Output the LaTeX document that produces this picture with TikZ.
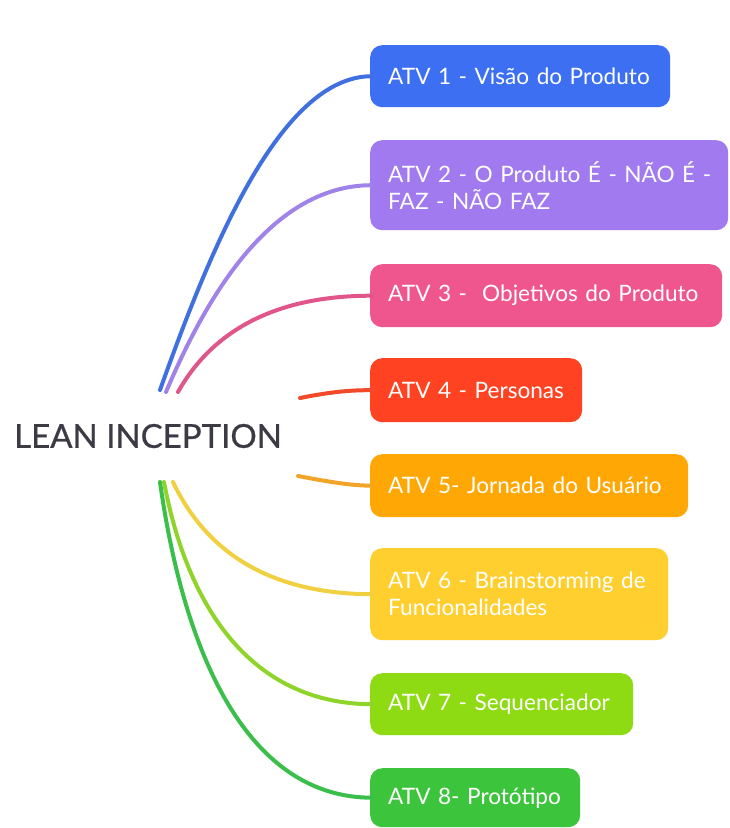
\documentclass[tikz,border=0pt]{standalone}
\usepackage{fontspec}
\setmainfont{Lato}
\newfontfamily\titlefont{Lato}[FakeBold=0.7]
\definecolor{c1}{HTML}{3D6FF2}
\definecolor{c2}{HTML}{A07AEE}
\definecolor{c3}{HTML}{F0568E}
\definecolor{c4}{HTML}{FF4222}
\definecolor{c5}{HTML}{FFA805}
\definecolor{c6}{HTML}{FFCF30}
\definecolor{c7}{HTML}{8EDB14}
\definecolor{c8}{HTML}{3CC43C}
\definecolor{l1}{HTML}{4070E0}
\definecolor{l2}{HTML}{A083E8}
\definecolor{l3}{HTML}{E0558A}
\definecolor{l4}{HTML}{F04A2A}
\definecolor{l5}{HTML}{F2A428}
\definecolor{l6}{HTML}{F0D040}
\definecolor{l7}{HTML}{8FD42A}
\definecolor{l8}{HTML}{3CBF4A}
\definecolor{titlec}{HTML}{3A3B45}
\tikzset{
  box/.style={rounded corners=12pt, anchor=north west, inner xsep=18pt, inner ysep=0pt,
    text=white, align=left, font=\fontsize{22.6}{27}\selectfont},
  conn/.style={line width=4pt, line cap=round}
}
\begin{document}
\begin{tikzpicture}[x=1pt,y=-1pt]
\useasboundingbox (0,0) rectangle (730,828);
\fill[white] (0,0) rectangle (730,828);
\node[anchor=west, inner sep=0pt, text=titlec, font=\titlefont\fontsize{33}{36}\selectfont] (root) at (14,436) {LEAN INCEPTION};

\node[box, fill=c1, minimum width=300pt, minimum height=62pt, text width=264pt] (b1) at (370,45) {ATV 1 - Visão do Produto};
\node[box, fill=c2, minimum width=358pt, minimum height=90pt, text width=322pt] (b2) at (370,140) {\mbox{ATV 2 - O Produto É - NÃO É -}\\FAZ - NÃO FAZ};
\node[box, fill=c3, minimum width=352pt, minimum height=63pt, text width=316pt] (b3) at (370,264) {ATV 3 -\ \ Objetivos do Produto};
\node[box, fill=c4, minimum width=212pt, minimum height=64pt, text width=176pt] (b4) at (370,358) {ATV 4 - Personas};
\node[box, fill=c5, minimum width=318pt, minimum height=63pt, text width=282pt] (b5) at (370,454) {ATV 5- Jornada do Usuário};
\node[box, fill=c6, minimum width=298pt, minimum height=92pt, text width=262pt] (b6) at (370,548) {\mbox{ATV 6 - Brainstorming de}\\Funcionalidades};
\node[box, fill=c7, minimum width=263pt, minimum height=62pt, text width=227pt] (b7) at (370,673) {ATV 7 - Sequenciador};
\node[box, fill=c8, minimum width=210pt, minimum height=59pt, text width=174pt] (b8) at (370,768) {ATV 8- Protótipo};

\coordinate (s1) at (160,390);
\coordinate (s2) at (166,392);
\coordinate (s3) at (178,392);
\coordinate (s4) at (300,398);
\coordinate (s5) at (298,476);
\coordinate (s6) at (173,482);
\coordinate (s7) at (164,482);
\coordinate (s8) at (160,482);

\draw[conn, l1] (s1) .. controls (210,250) and (280,76) .. ([xshift=2pt]b1.west);
\draw[conn, l2] (s2) .. controls (205,300) and (270,185) .. ([xshift=2pt]b2.west);
\draw[conn, l3] (s3) .. controls (210,335) and (270,295.5) .. ([xshift=2pt]b3.west);
\draw[conn, l4] (s4) .. controls (330,392) and (350,390) .. ([xshift=2pt]b4.west);
\draw[conn, l5] (s5) .. controls (330,482) and (350,485.5) .. ([xshift=2pt]b5.west);
\draw[conn, l6] (s6) .. controls (210,560) and (280,594) .. ([xshift=2pt]b6.west);
\draw[conn, l7] (s7) .. controls (190,620) and (260,704) .. ([xshift=2pt]b7.west);
\draw[conn, l8] (s8) .. controls (185,660) and (250,797.5) .. ([xshift=2pt]b8.west);
\end{tikzpicture}
\end{document}
